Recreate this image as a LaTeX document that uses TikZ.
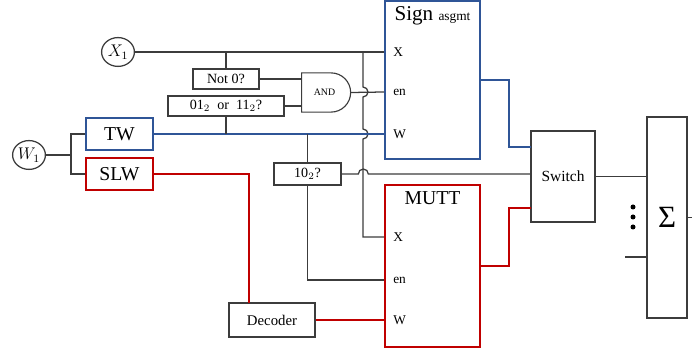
\documentclass[tikz,border=0pt]{standalone}
\usepackage{fontspec}
\setmainfont{Liberation Serif}
\usetikzlibrary{positioning, shapes.geometric, shapes.gates.logic.US}
\definecolor{signblue}{RGB}{47,85,151}
\definecolor{muttred}{RGB}{192,0,0}
\definecolor{wiregray}{RGB}{60,60,60}

\begin{document}
\begin{tikzpicture}[x=0.025cm, y=-0.025cm,
  wire/.style={draw=wiregray, line width=0.9pt},
  bluewire/.style={draw=signblue, line width=1.2pt},
  redwire/.style={draw=muttred, line width=1.2pt},
  testbox/.style={draw=wiregray, line width=0.8pt, minimum height=0.5cm, inner sep=1pt, font=\fontsize{10}{12}\selectfont},
  unitbox/.style={draw, line width=1.3pt, minimum width=2.375cm, inner sep=0pt},
  wbox/.style={draw, line width=1.3pt, minimum width=1.675cm, minimum height=0.8cm, font=\fontsize{14}{16}\selectfont},
  port/.style={anchor=west, inner sep=0pt, font=\fontsize{9.5}{10}\selectfont},
  var/.style={ellipse, draw=wiregray, line width=0.9pt, minimum width=0.82cm, minimum height=0.72cm, inner sep=-1pt,
    font=\fontsize{12}{14}\selectfont}]
  \useasboundingbox (0,0) rectangle (692,352);
  % Inputs
  \node[var] (x1) at (118,52) {$X_1$};
  \node[var] (w1) at (29,155) {$W_1$};
  \node[wbox, draw=signblue] (tw) at (119.5,134) {TW};
  \node[wbox, draw=muttred] (slw) at (119.5,174) {SLW};
  % Tests
  \node[testbox, minimum width=1.65cm] (not0) at (226,79) {Not 0?};
  \node[testbox, minimum width=2.9cm] (lsb) at (226,106) {01$_2$~~or~~11$_2$?};
  \node[testbox, minimum width=1.675cm, minimum height=0.55cm] (ten) at (307.5,174) {10$_2$?};
  \node[and gate US, draw=wiregray, line width=0.8pt, minimum width=1.225cm, minimum height=0.975cm,
    inner sep=0pt, font=\fontsize{7}{8}\selectfont] (andg) at (324.5,92.5) {AND};
  \node[draw=wiregray, line width=0.8pt, minimum width=2.15cm, minimum height=0.85cm,
    font=\fontsize{10.5}{12}\selectfont] (dec) at (272,320) {Decoder};
  % Sign asgmt
  \node[unitbox, draw=signblue, minimum height=3.95cm] (sign) at (432.5,80) {};
  \node[below=1pt of sign.north, font=\fontsize{15}{16}\selectfont] (signtitle) {Sign {\fontsize{9.5}{10}\selectfont asgmt}};
  \node[port] (sx) at (393,52) {X};
  \node[port] (sen) at (393,92) {en};
  \node[port] (sw) at (393,134) {W};
  % MUTT
  \node[unitbox, draw=muttred, minimum height=4.05cm] (mutt) at (432.5,266) {};
  \node[below=2pt of mutt.north, font=\fontsize{14}{16}\selectfont] (mutttitle) {MUTT};
  \node[port] (mx) at (393,237) {X};
  \node[port] (men) at (393,280) {en};
  \node[port] (mw) at (393,320) {W};
  % Switch and sum
  \node[draw=wiregray, line width=0.8pt, minimum width=1.6cm, minimum height=2.275cm,
    font=\fontsize{11}{13}\selectfont] (switch) at (563,176.5) {Switch};
  \node[draw=wiregray, line width=0.8pt, minimum width=1cm, minimum height=5.025cm,
    font=\fontsize{22}{24}\selectfont] (sum) at (667,217.5) {Σ};
  \foreach \y in {207,217,227}
    \fill (633,\y) circle (2.5);
  \coordinate (xtap) at (363,52);
  \coordinate (decin) at (249,303);
  \coordinate (swin1) at (531,147);
  \coordinate (swin2) at (531,208);
  \coordinate (sumin) at (625,257);
  \coordinate (sumout) at (692,217.5);
  % X1 wiring
  \draw[wire] (x1.east) -- (sign.west |- sx);
  \draw[wire] (not0.north) -- (not0.north |- x1.east);
  \draw[wire] (xtap) -- ++(0,35) arc[start angle=-90, end angle=90, radius=5]
    -- ++(0,32) arc[start angle=-90, end angle=90, radius=5]
    -- (xtap |- mx) -- (mutt.west |- mx);
  % W1 wiring
  \draw[wire] (w1.east) -- ++(25,0) coordinate (wsplit);
  \draw[wire] (tw.west) -| (wsplit) |- (slw.west);
  \draw[bluewire] (tw.east) -- (sign.west |- sw);
  \draw[wire] (lsb.south) -- (lsb.south |- tw.east);
  \draw[wire] (ten.north) -- (ten.north |- tw.east);
  \draw[redwire] (slw.east) -| (decin);
  \draw[redwire] (dec.east) -- (mutt.west |- mw);
  % Enables
  \draw[wire] (not0.east) -- (not0.east -| andg.west);
  \draw[wire] (lsb.east) -- (lsb.east -| andg.west);
  \draw[wire] (andg.output) -- (sign.west |- sen);
  \draw[wire] (ten.south) |- (mutt.west |- men);
  \draw[wire] (ten.east) -- ++(16.75,0) arc[start angle=180, end angle=360, radius=5]
    -- (ten.east -| switch.west);
  % Outputs
  \draw[bluewire] (sign.east) -- ++(28,0) |- (swin1);
  \draw[redwire] (mutt.east) -- ++(28,0) |- (swin2);
  \draw[wire] (switch.east) -- (switch.east -| sum.west);
  \draw[wire] (sumin) -- (sumin -| sum.west);
  \draw[wire] (sum.east) -- (sumout);
\end{tikzpicture}
\end{document}
